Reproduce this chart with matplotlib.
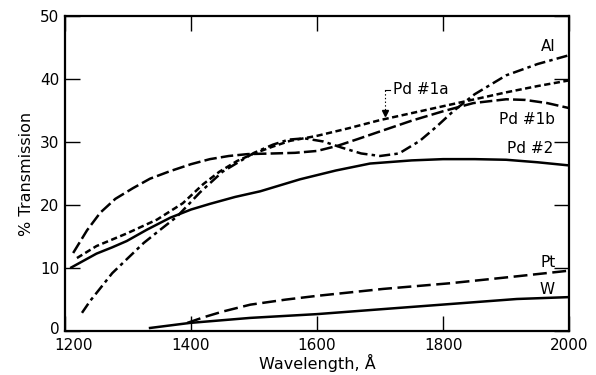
import numpy as np
import matplotlib.pyplot as plt
import matplotlib.transforms as mtransforms

plt.rcParams['font.family'] = ['DejaVu Sans']
plt.rcParams['lines.scale_dashes'] = False

# Data (wavelength in A, % transmission)
al_x = [1227, 1240, 1256, 1275, 1300, 1325, 1350, 1378, 1414, 1450, 1500, 1530,
        1555, 1580, 1610, 1640, 1670, 1700, 1730, 1763, 1790, 1816, 1850, 1900,
        1950, 2000]
al_y = [2.9, 4.8, 6.8, 9.2, 11.6, 14.0, 16.0, 18.2, 22.0, 25.3, 28.3, 29.6,
        30.4, 30.6, 30.1, 29.1, 28.2, 27.8, 28.2, 30.2, 32.5, 34.9, 37.6, 40.6,
        42.4, 43.8]

pd1a_x = [1219, 1250, 1298, 1346, 1387, 1419, 1445, 1473, 1500, 1530, 1557, 1600,
          1650, 1700, 1750, 1800, 1850, 1900, 1950, 2000]
pd1a_y = [11.6, 13.5, 15.5, 17.7, 20.3, 23.3, 25.3, 27.0, 28.2, 29.3, 30.2, 31.0,
          32.2, 33.5, 34.6, 35.7, 36.8, 37.9, 38.9, 39.8]

pd1b_x = [1213, 1235, 1256, 1280, 1308, 1335, 1367, 1400, 1430, 1460, 1490, 1530,
          1565, 1600, 1632, 1665, 1700, 1750, 1800, 1848, 1900, 1930, 1965, 2000]
pd1b_y = [12.4, 16.0, 18.8, 21.0, 22.7, 24.2, 25.4, 26.5, 27.3, 27.8, 28.1, 28.2,
          28.3, 28.6, 29.4, 30.5, 31.7, 33.4, 34.9, 36.2, 36.8, 36.7, 36.2, 35.4]

pd2_x = [1210, 1230, 1250, 1275, 1298, 1330, 1367, 1400, 1430, 1470, 1510, 1573,
         1630, 1684, 1750, 1800, 1850, 1900, 1950, 2000]
pd2_y = [10.1, 11.2, 12.3, 13.3, 14.3, 16.1, 18.0, 19.3, 20.2, 21.3, 22.2, 24.1,
         25.5, 26.6, 27.1, 27.3, 27.3, 27.2, 26.8, 26.3]

pt_x = [1394, 1420, 1450, 1494, 1550, 1600, 1705, 1811, 1917, 2000]
pt_y = [1.3, 2.2, 3.1, 4.2, 5.0, 5.6, 6.7, 7.6, 8.7, 9.6]

w_x = [1335, 1398, 1494, 1600, 1705, 1811, 1917, 2000]
w_y = [0.5, 1.3, 2.1, 2.7, 3.5, 4.3, 5.1, 5.4]

fig = plt.figure(figsize=(5.96, 3.75), dpi=100)
ax = fig.add_axes([0.109, 0.117, 0.846, 0.84])

lw = 1.8
ax.plot(al_x, al_y, color='black', lw=lw, dashes=(8, 3, 2.5, 3))
ax.plot(pd1a_x, pd1a_y, color='black', lw=lw, dashes=(4.5, 2.5))
ax.plot(pd1b_x, pd1b_y, color='black', lw=lw, dashes=(9, 3))
ax.plot(pd2_x, pd2_y, color='black', lw=lw)
ax.plot(pt_x, pt_y, color='black', lw=lw, dashes=(10, 4))
ax.plot(w_x, w_y, color='black', lw=lw)

ax.set_xlim(1200, 2000)
ax.set_ylim(0, 50)
ax.set_xticks([1200, 1400, 1600, 1800, 2000])
ax.set_yticks([0, 10, 20, 30, 40, 50])
ax.tick_params(direction='in', length=11, width=1, top=True, right=True,
               labelsize=11, pad=4)
ax.tick_params(axis='x', pad=5)
for s in ax.spines.values():
    s.set_linewidth(1.6)

# nudge the first x label right and the "0" up so they do not collide
lab0 = ax.get_xticklabels()[0]
lab0.set_transform(lab0.get_transform()
                   + mtransforms.ScaledTranslation(0.09, 0, fig.dpi_scale_trans))
ylab0 = ax.get_yticklabels()[0]
ylab0.set_transform(ylab0.get_transform()
                    + mtransforms.ScaledTranslation(0, 0.03, fig.dpi_scale_trans))

ax.set_xlabel('Wavelength, Å', fontsize=11.5, labelpad=1)
ax.set_ylabel('% Transmission', fontsize=11.5, labelpad=4)

fs = 11
ax.text(1978, 44.0, 'Al', fontsize=fs, ha='right', va='bottom')
ax.text(1721, 38.3, 'Pd #1a', fontsize=fs, ha='left', va='center')
ax.text(1978, 33.6, 'Pd #1b', fontsize=fs, ha='right', va='center')
ax.text(1975, 29.0, 'Pd #2', fontsize=fs, ha='right', va='center')
ax.text(1978, 10.9, 'Pt', fontsize=fs, ha='right', va='center')
ax.text(1977, 6.6, 'W', fontsize=fs, ha='right', va='center')

# leader for Pd #1a
ax.plot([1708, 1716], [38.3, 38.3], color='black', lw=0.8)
ax.plot([1708, 1708], [38.3, 35.0], color='black', lw=0.8, ls=':')
ax.plot([1708], [34.6], marker='v', color='black', ms=4)

fig.savefig('out.png', dpi=100)
